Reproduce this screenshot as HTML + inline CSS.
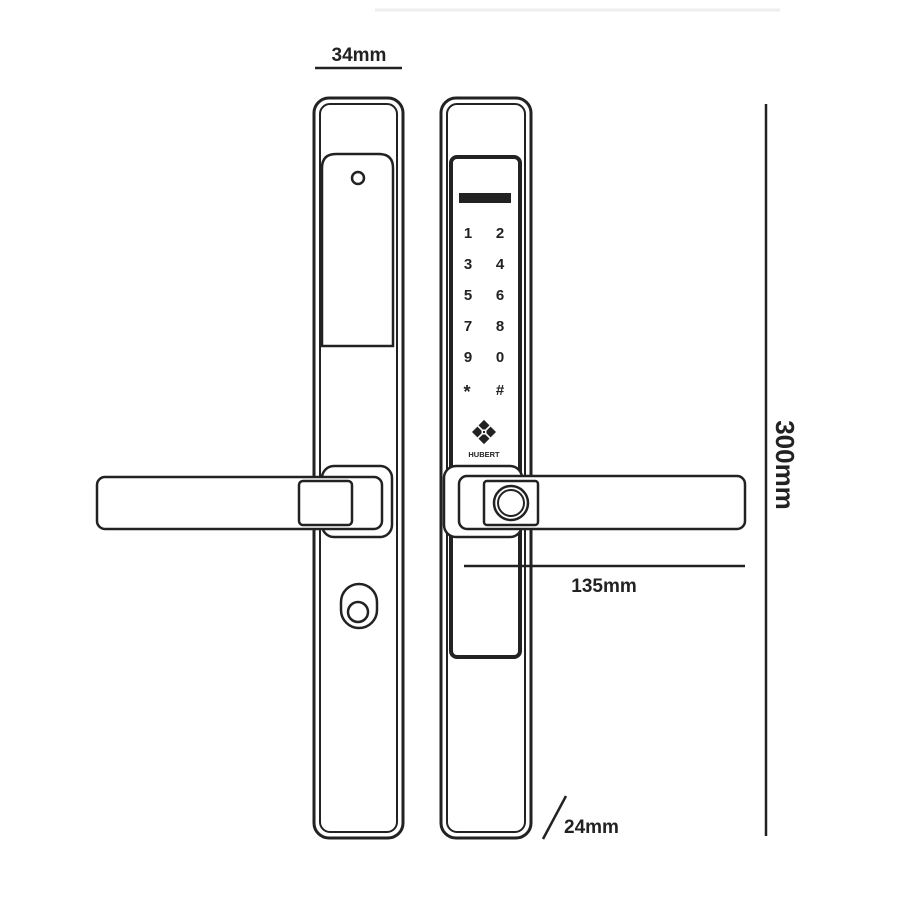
<!DOCTYPE html>
<html><head><style>body{margin:0;background:#fff}svg{display:block}</style></head><body>
<svg width="900" height="900" viewBox="0 0 900 900" xmlns="http://www.w3.org/2000/svg" font-family="Liberation Sans, sans-serif" font-weight="bold" fill="none" stroke="#222">
<line x1="375" y1="10" x2="780" y2="10" stroke="#eee" stroke-width="3"/>
<text x="359" y="61" font-size="19" text-anchor="middle" fill="#222" stroke="none">34mm</text>
<line x1="315" y1="68" x2="402" y2="68" stroke-width="2.5"/>
<!-- left plate -->
<rect x="314" y="98" width="89" height="740" rx="15" stroke-width="3"/>
<rect x="320" y="104" width="77" height="728" rx="10" stroke-width="2"/>
<path d="M322,346 V168 Q322,154 336,154 H379 Q393,154 393,168 V346 Z" stroke-width="2.5"/>
<circle cx="358" cy="178" r="6" stroke-width="2.5"/>
<!-- right plate -->
<rect x="441" y="98" width="90" height="740" rx="15" stroke-width="3"/>
<rect x="447" y="104" width="78" height="728" rx="10" stroke-width="2"/>
<rect x="451" y="157" width="69" height="500" rx="6" stroke-width="4"/>
<rect x="459" y="193" width="52" height="10" fill="#222" stroke="none"/>
<g fill="#222" stroke="none" font-size="15" text-anchor="middle">
<text x="468" y="238">1</text><text x="500" y="238">2</text>
<text x="468" y="269">3</text><text x="500" y="269">4</text>
<text x="468" y="300">5</text><text x="500" y="300">6</text>
<text x="468" y="331">7</text><text x="500" y="331">8</text>
<text x="468" y="362">9</text><text x="500" y="362">0</text>
<text x="467" y="398" font-size="18">*</text><text x="500" y="395">#</text>
<path d="M484,420 L496,432 L484,444 L472,432 Z"/>
<path d="M484,420 L478,426 L484,432 L490,426 Z M484,432 L478,438 L484,444 L490,438 Z" fill="#222"/>
<g stroke="#fff" stroke-width="1.6"><line x1="477" y1="425" x2="491" y2="439"/><line x1="491" y1="425" x2="477" y2="439"/></g>
<rect x="481.5" y="429.5" width="5" height="5" fill="#fff"/>
<rect x="483" y="431" width="2" height="2" fill="#222"/>
<text x="484" y="457" font-size="7.5">HUBERT</text>
</g>
<!-- left handle -->
<rect x="322" y="466" width="70" height="71" rx="12" fill="#fff" stroke-width="2.5"/>
<rect x="97" y="477" width="285" height="52" rx="8" fill="#fff" stroke-width="2.5"/>
<rect x="299" y="481" width="53" height="44" rx="4" fill="#fff" stroke-width="2.5"/>
<!-- right handle -->
<rect x="444" y="466" width="78" height="71" rx="12" fill="#fff" stroke-width="2.5"/>
<rect x="459" y="476" width="286" height="53" rx="8" fill="#fff" stroke-width="2.5"/>
<rect x="484" y="481" width="54" height="44" rx="3" fill="#fff" stroke-width="2.5"/>
<circle cx="511" cy="503" r="17" stroke-width="2.5"/>
<circle cx="511" cy="503" r="13" stroke-width="2"/>
<!-- keyhole -->
<rect x="341" y="584" width="36" height="44" rx="18" stroke-width="2.5"/>
<circle cx="358" cy="612" r="10" stroke-width="2.5"/>
<!-- 135mm -->
<line x1="464" y1="566" x2="745" y2="566" stroke-width="2.5"/>
<text x="604" y="592" font-size="19" text-anchor="middle" fill="#222" stroke="none">135mm</text>
<!-- 300mm -->
<line x1="766" y1="104" x2="766" y2="836" stroke-width="2.5"/>
<text transform="translate(776,465) rotate(90)" font-size="26" text-anchor="middle" fill="#222" stroke="none">300mm</text>
<!-- 24mm -->
<line x1="543" y1="839" x2="566" y2="796" stroke-width="2.5"/>
<text x="564" y="833" font-size="19" fill="#222" stroke="none">24mm</text>
</svg>
</body></html>
